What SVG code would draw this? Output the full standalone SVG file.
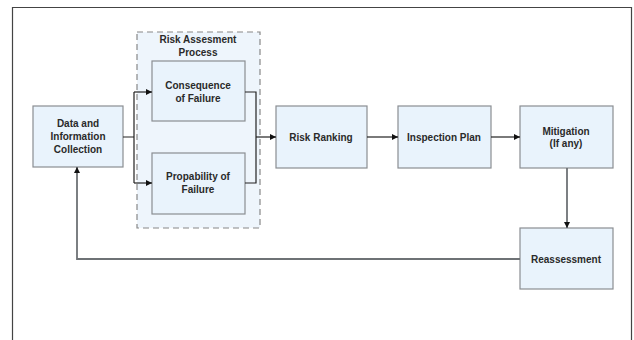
<svg xmlns="http://www.w3.org/2000/svg" width="634" height="340" viewBox="0 0 634 340">
<defs>
<style>
.box{fill:#e9f3fc;stroke:#8a8e92;stroke-width:1.2}
.t{font-family:"Liberation Sans",Arial,sans-serif;font-weight:bold;font-size:10px;fill:#2a2a2a;text-anchor:middle}
.c{fill:none;stroke:#222;stroke-width:1.2}
.g{fill:none;stroke:#6e7275;stroke-width:1.8}
</style>
<marker id="a" viewBox="0 0 10 10" refX="10" refY="5" markerWidth="8" markerHeight="6" orient="auto" markerUnits="userSpaceOnUse"><path d="M0,0 L10,5 L0,10 z" fill="#111"/></marker>
</defs>
<rect x="0" y="0" width="634" height="340" fill="#fff"/>
<path d="M12.5,340 V7.5 H631.5 V340" fill="none" stroke="#444" stroke-width="1.2"/>
<g id="container">
<rect x="137" y="32" width="123" height="196" fill="#eef5fc" stroke="#888" stroke-width="1.2" stroke-dasharray="6,4"/>
<text class="t" x="198" y="43">Risk Assesment</text>
<text class="t" x="198" y="56">Process</text>
</g>
<g id="data"><rect class="box" x="33" y="106" width="90" height="61"/>
<text class="t" x="78" y="127">Data and</text><text class="t" x="78" y="140">Information</text><text class="t" x="78" y="153">Collection</text></g>
<g id="consequence"><rect class="box" x="152" y="61" width="93" height="60"/>
<text class="t" x="198" y="89">Consequence</text><text class="t" x="198" y="102">of Failure</text></g>
<g id="probability"><rect class="box" x="152" y="153" width="93" height="61"/>
<text class="t" x="198" y="180">Propability of</text><text class="t" x="198" y="193">Failure</text></g>
<g id="ranking"><rect class="box" x="276" y="106" width="91" height="62"/>
<text class="t" x="321" y="141">Risk Ranking</text></g>
<g id="inspection"><rect class="box" x="398" y="106" width="93" height="62"/>
<text class="t" x="444" y="141">Inspection Plan</text></g>
<g id="mitigation"><rect class="box" x="520" y="106" width="93" height="62"/>
<text class="t" x="566" y="135">Mitigation</text><text class="t" x="566" y="147">(If any)</text></g>
<g id="reassessment"><rect class="box" x="520" y="228" width="93" height="61"/>
<text class="t" x="566" y="263">Reassessment</text></g>
<g id="connectors">
<path class="c" d="M123,137 H134 M134,92 V183"/>
<path class="c" d="M134,92 H152" marker-end="url(#a)"/>
<path class="c" d="M134,183 H152" marker-end="url(#a)"/>
<path class="c" d="M245,92 H256 V183 H245"/>
<path class="c" d="M256,137 H276" marker-end="url(#a)"/>
<path class="c" d="M367,137 H398" marker-end="url(#a)"/>
<path class="c" d="M491,137 H520" marker-end="url(#a)"/>
<path class="g" d="M567,168 V228" marker-end="url(#a)"/>
<path class="g" d="M520,259 H77 V167" marker-end="url(#a)"/>
</g>
</svg>
